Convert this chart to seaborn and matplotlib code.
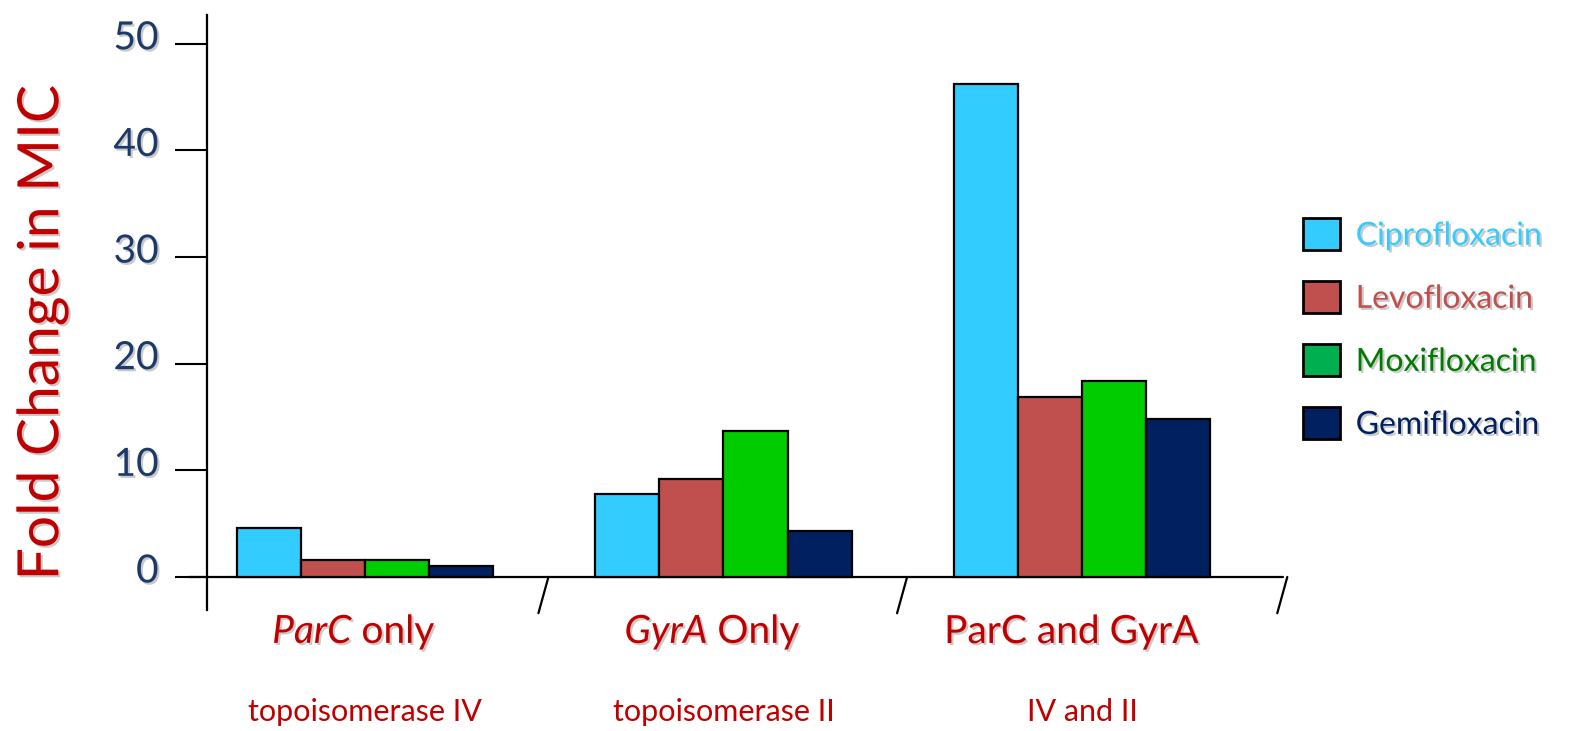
import numpy as np
import pandas as pd
import matplotlib
matplotlib.use("Agg")
import matplotlib.pyplot as plt
import matplotlib.patheffects as pe
from matplotlib.patches import Patch
from matplotlib.transforms import blended_transform_factory, ScaledTranslation
import seaborn as sns

# ---- data ----
groups = ["ParC only", "GyrA Only", "ParC and GyrA"]
group_labels = ["$\\it{ParC}$ only", "$\\it{GyrA}$ Only", "ParC and GyrA"]
sub_labels = ["topoisomerase IV", "topoisomerase II", "IV and II"]
drugs = ["Ciprofloxacin", "Levofloxacin", "Moxifloxacin", "Gemifloxacin"]
cipro = [4.6, 7.8, 46.2]
levo = [1.6, 9.2, 16.9]
moxi = [1.6, 13.7, 18.4]
gemi = [1.0, 4.3, 14.8]
yticks = [0, 10, 20, 30, 40, 50]

bar_colors = ["#33CCFF", "#C0504D", "#00CC00", "#002060"]
legend_patch_colors = ["#33CCFF", "#C0504D", "#00B050", "#002060"]
legend_text_colors = ["#33CCFF", "#C0504D", "#007A00", "#002060"]
red = "#C00000"
navy = "#1B3A6B"

df = pd.DataFrame({
    "group": np.repeat(groups, 4),
    "drug": drugs * 3,
    "value": [v for i in range(3) for v in (cipro[i], levo[i], moxi[i], gemi[i])],
})

sns.set_theme(style="white")
plt.rcParams["font.family"] = ["Lato", "DejaVu Sans"]
plt.rcParams["mathtext.fontset"] = "custom"
plt.rcParams["mathtext.rm"] = "Lato"
plt.rcParams["mathtext.it"] = "Lato:italic"

shadow = [pe.SimplePatchShadow(offset=(1.5, -1.5), shadow_rgbFace="#888888", alpha=0.45), pe.Normal()]

fig = plt.figure(figsize=(15.73, 7.31), dpi=100)
ax = fig.add_axes([207 / 1573, 0.1655, 1076 / 1573, 0.814])

sns.barplot(data=df, x="group", y="value", hue="drug", order=groups, hue_order=drugs,
            palette=bar_colors, width=0.714, edgecolor="black", linewidth=1.6,
            saturation=1, legend=False, ax=ax, errorbar=None)

ax.set_xlim(-0.44, 2.56)
ax.set_ylim(-3.1, 52.7)

for s in ["top", "right", "bottom"]:
    ax.spines[s].set_visible(False)
ax.spines["left"].set_color("black")
ax.spines["left"].set_linewidth(1.6)

# baseline and group separators
ax.plot([-0.49, 2.56], [0, 0], color="black", lw=1.6, clip_on=False, zorder=0.5)
for xs in [0.5, 1.5, 2.56]:
    ax.plot([xs + 0.012, xs - 0.016], [0, -3.4], color="black", lw=1.6, clip_on=False)

ax.set_yticks(yticks)
ax.set_yticklabels([str(t) for t in yticks])
ax.tick_params(axis="y", direction="out", length=23, width=1.5, color="black",
               pad=9, labelsize=28, labelcolor=navy, left=True)
up = ScaledTranslation(-4 / 100, 9 / 100, fig.dpi_scale_trans)
for lbl in ax.get_yticklabels():
    lbl.set_path_effects(shadow)
    lbl.set_transform(lbl.get_transform() + up)

ax.set_xticks([])
ax.set_xlabel("")
ax.set_ylabel("")

trans = blended_transform_factory(ax.transData, ax.transAxes)
for i, (gl, sl) in enumerate(zip(group_labels, sub_labels)):
    ax.text(i - 0.03, -0.037, gl, transform=trans, ha="center", va="center",
            fontsize=28, color=red, path_effects=shadow)
    ax.text(i, -0.171, sl, transform=trans, ha="center", va="center",
            fontsize=22, color=red)

fig.text(43 / 1573, (731 - 332) / 731, "Fold Change in MIC", rotation=90,
         ha="center", va="center", fontsize=41, color=red, path_effects=shadow)

handles = [Patch(facecolor=c, edgecolor="black", linewidth=2) for c in legend_patch_colors]
leg = fig.legend(handles, drugs, loc="center left",
                 bbox_to_anchor=(1303 / 1573, (731 - 329) / 731), frameon=False,
                 borderpad=0, borderaxespad=0,
                 fontsize=23, handlelength=1.15, handleheight=1.15, handletextpad=0.5,
                 labelspacing=0.95)
for t, c in zip(leg.get_texts(), legend_text_colors):
    t.set_color(c)
    t.set_path_effects(shadow)

fig.savefig("out.png", dpi=100)
